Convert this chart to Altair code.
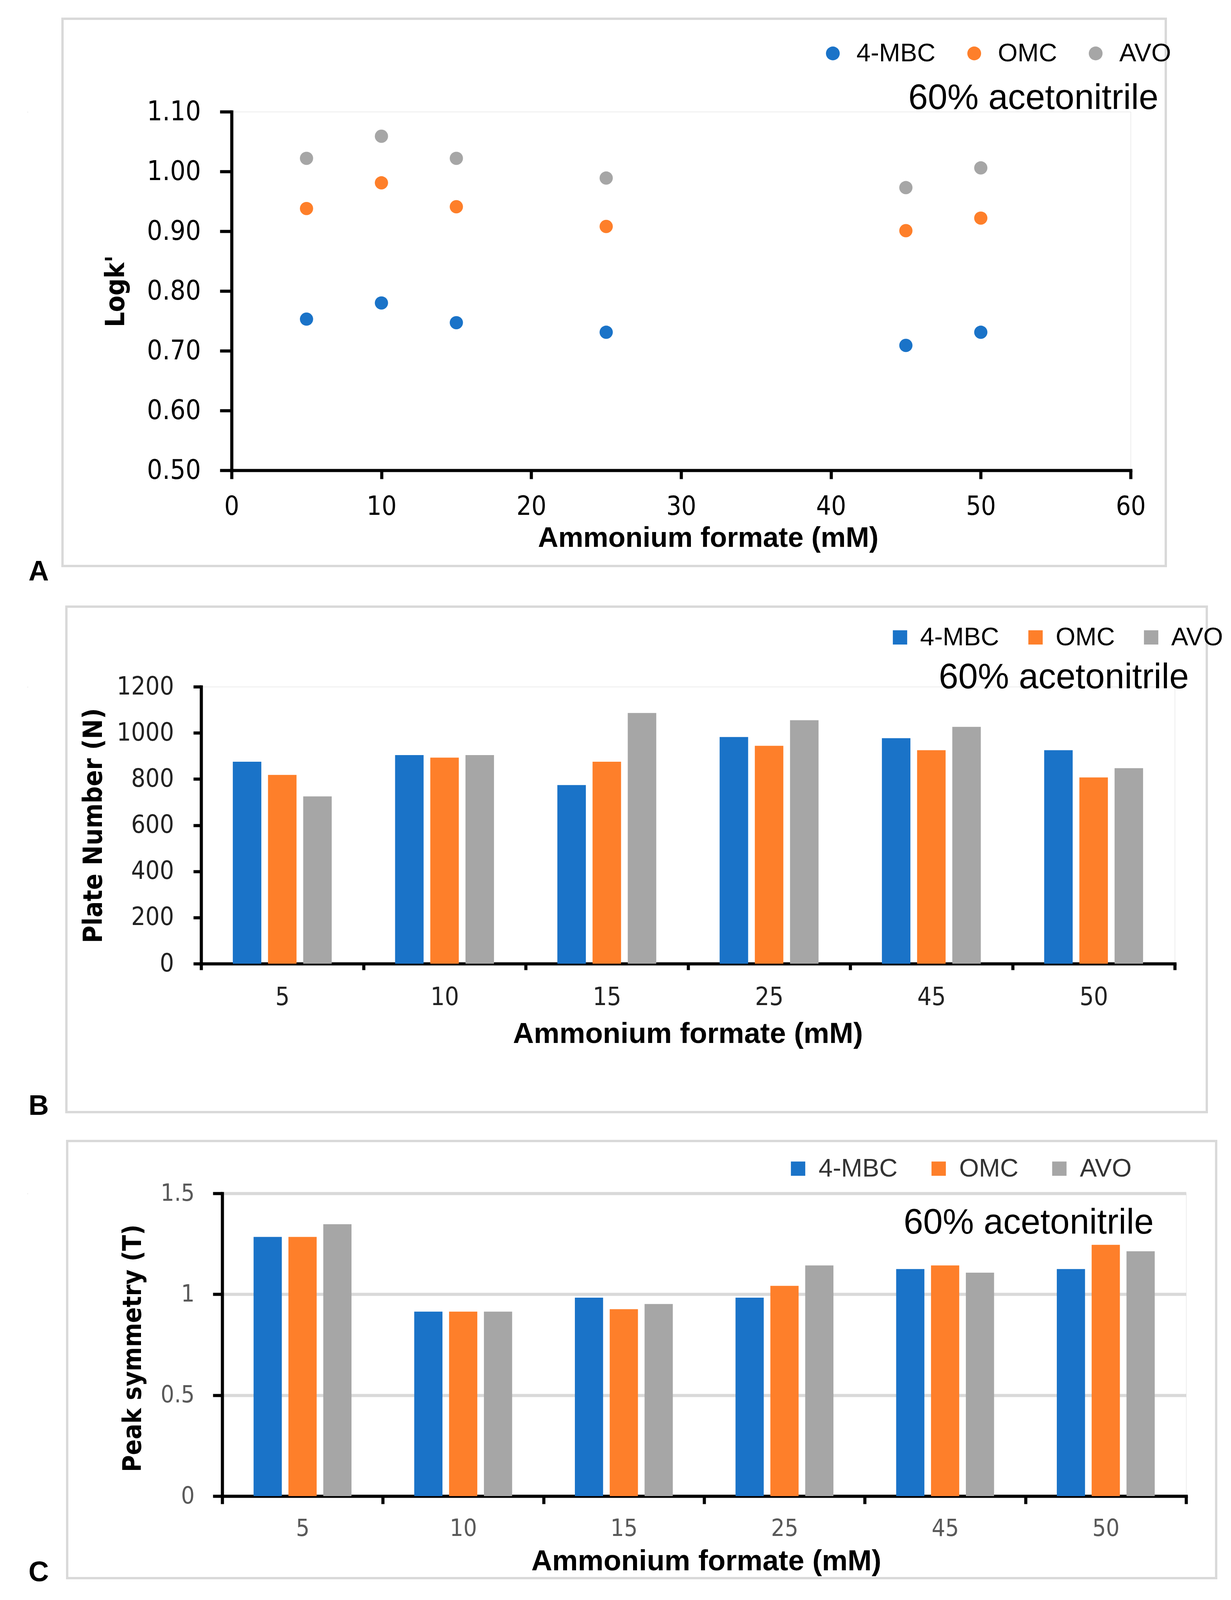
import altair as alt
import pandas as pd

# ---------------- data ----------------
conc = [5, 10, 15, 25, 45, 50]
conc_labels = ["5", "10", "15", "25", "45", "50"]
compounds = ["4-MBC", "OMC", "AVO"]
colors = ["#1A73C8", "#FE7F2A", "#A6A6A6"]

# Panel A: log k'
logk_4mbc = [0.753, 0.780, 0.747, 0.731, 0.709, 0.731]
logk_omc = [0.938, 0.981, 0.941, 0.908, 0.901, 0.922]
logk_avo = [1.022, 1.059, 1.022, 0.989, 0.973, 1.006]

# Panel B: plate number
plate_4mbc = [875, 904, 774, 982, 977, 925]
plate_omc = [818, 893, 875, 944, 925, 807]
plate_avo = [725, 904, 1086, 1055, 1026, 847]

# Panel C: peak symmetry
sym_4mbc = [1.284, 0.914, 0.983, 0.983, 1.125, 1.125]
sym_omc = [1.284, 0.914, 0.926, 1.042, 1.143, 1.245]
sym_avo = [1.347, 0.914, 0.952, 1.143, 1.107, 1.213]

# axis ticks
a_x_ticks = [0, 10, 20, 30, 40, 50, 60]
a_y_ticks = [0.5, 0.6, 0.7, 0.8, 0.9, 1.0, 1.1]
b_y_ticks = [0, 200, 400, 600, 800, 1000, 1200]
c_y_ticks = [0, 0.5, 1.0, 1.5]

note_text = "60% acetonitrile"
x_title = "Ammonium formate (mM)"


def to_long(series_list, name):
    rows = []
    for comp, vals in zip(compounds, series_list):
        for c, lab, v in zip(conc, conc_labels, vals):
            rows.append({"conc": c, "label": lab, "compound": comp, name: v})
    return pd.DataFrame(rows)


dfA = to_long([logk_4mbc, logk_omc, logk_avo], "logk")
dfB = to_long([plate_4mbc, plate_omc, plate_avo], "plate")
dfC = to_long([sym_4mbc, sym_omc, sym_avo], "sym")
one = pd.DataFrame({"k": [0]})

SANS = "'Liberation Sans', Arial, sans-serif"
COND = "'DejaVu Sans Condensed', 'DejaVu Sans', sans-serif"
color_scale = alt.Scale(domain=compounds, range=colors)


def frame(x1, x2, y1, y2):
    return alt.Chart(one).mark_rect(fillOpacity=0, stroke="#D9D9D9", strokeWidth=6).encode(
        x=alt.value(x1), x2=alt.value(x2), y=alt.value(y1), y2=alt.value(y2))


def letter(ch, x, y):
    return alt.Chart(one).mark_text(text=ch, font=SANS, fontSize=72, fontWeight="bold",
                                    align="center", baseline="middle", color="black").encode(
        x=alt.value(x), y=alt.value(y))


def note(x, y, size):
    return alt.Chart(one).mark_text(text=note_text, font=SANS, fontSize=size,
                                    align="right", baseline="middle", color="black").encode(
        x=alt.value(x), y=alt.value(y))


def axis(**kw):
    base = dict(domainColor="black", domainWidth=8, domainCap="square", tickColor="black",
                tickWidth=8, grid=False, labelFont=COND, labelColor="black",
                titleColor="black", titleFontWeight="bold", titleBaseline="middle")
    base.update(kw)
    return alt.Axis(**base)


def legend(x, y, sym, size, offset, colpad, label_color="black"):
    return alt.Legend(orient="none", legendX=x, legendY=y, direction="horizontal", columns=3,
                      title=None, symbolType=sym, symbolSize=size, symbolStrokeWidth=0,
                      symbolOpacity=1, labelFont=SANS, labelFontSize=65, labelColor=label_color,
                      labelLimit=0, labelOffset=offset, columnPadding=colpad, padding=0,
                      rowPadding=0)


# ---------------- panel A ----------------
WA, HA = 2302, 918
pointsA = alt.Chart(dfA).mark_point(filled=True, size=1150, opacity=1).encode(
    x=alt.X("conc:Q", scale=alt.Scale(domain=[0, 60], nice=False, zero=False),
            axis=axis(values=a_x_ticks, format="d", tickSize=22, labelFontSize=67,
                      labelPadding=38, labelFlush=False, title=x_title, titleFont=SANS,
                      titleFontSize=72, titleX=1220, titleY=173)),
    y=alt.Y("logk:Q", scale=alt.Scale(domain=[0.5, 1.1], nice=False, zero=False),
            axis=axis(values=a_y_ticks, format=".2f", tickSize=30, labelFontSize=69,
                      labelPadding=49, labelFlush=False, title="Logk'", titleFont=COND,
                      titleFontSize=68, titleX=-296, titleY=459)),
    color=alt.Color("compound:N", scale=color_scale, sort=compounds,
                    legend=legend(1507, -182, "circle", 1250, 28, 66)),
)
panelA = alt.layer(
    frame(-433, 2392, -238, 1163),
    letter("A", -494, 1178),
    note(2373, -34, 90),
    pointsA,
).properties(width=WA, height=HA)

# ---------------- panel B ----------------
WB, HB = 2493, 709
barsB = alt.Chart(dfB).mark_bar().encode(
    x=alt.X("label:N", sort=conc_labels, scale=alt.Scale(paddingInner=0, paddingOuter=0),
            axis=axis(tickBand="extent", labelAngle=0, tickSize=16, labelFontSize=64,
                      labelColor="#222222", labelPadding=38, title=x_title, titleFont=SANS,
                      titleFontSize=74, titleX=1246, titleY=180)),
    xOffset=alt.XOffset("compound:N", sort=compounds,
                        scale=alt.Scale(paddingInner=0.19, paddingOuter=0.9)),
    y=alt.Y("plate:Q", scale=alt.Scale(domain=[0, 1200], nice=False),
            axis=axis(values=b_y_ticks, format="d", tickSize=20, labelFontSize=64,
                      labelColor="#222222", labelPadding=50, title="Plate Number (N)",
                      titleFont=COND, titleFontSize=68, titleX=-275, titleY=355)),
    color=alt.Color("compound:N", scale=color_scale, sort=compounds,
                    legend=legend(1757, -159, "square", 1350, 19, 60)),
)
panelB = alt.layer(
    frame(-345, 2575, -205, 1089),
    letter("B", -416, 1074),
    note(2529, -23, 90),
    barsB,
).properties(width=WB, height=HB)

# ---------------- panel C ----------------
WC, HC = 2468, 775
barsC = alt.Chart(dfC).mark_bar().encode(
    x=alt.X("label:N", sort=conc_labels, scale=alt.Scale(paddingInner=0, paddingOuter=0),
            axis=axis(tickBand="extent", labelAngle=0, tickSize=20, labelFontSize=61,
                      labelColor="#595959", labelPadding=33, title=x_title, titleFont=SANS,
                      titleFontSize=74, titleX=1239, titleY=167)),
    xOffset=alt.XOffset("compound:N", sort=compounds,
                        scale=alt.Scale(paddingInner=0.19, paddingOuter=0.9)),
    y=alt.Y("sym:Q", scale=alt.Scale(domain=[0, 1.5], nice=False),
            axis=axis(values=c_y_ticks, format="~g", tickSize=24, labelFontSize=61,
                      labelColor="#595959", labelPadding=47, grid=True, gridColor="#D9D9D9",
                      gridWidth=8, title="Peak symmetry (T)", titleFont=COND,
                      titleFontSize=66, titleX=-229, titleY=396)),
    color=alt.Color("compound:N", scale=color_scale, sort=compounds,
                    legend=legend(1442, -96, "square", 1350, 20, 72, "#333333")),
)
panelC = alt.layer(
    frame(-397, 2545, -134, 985),
    letter("C", -470, 971),
    note(2385, 76, 90),
    barsC,
).properties(width=WC, height=HC)


# ---------------- layout ----------------
def spacer():
    return alt.Chart(one).mark_rect(opacity=0).encode(
        x=alt.value(0), x2=alt.value(1), y=alt.value(0), y2=alt.value(1)
    ).properties(width=1, height=1)


def row(panel):
    return alt.hconcat(spacer(), panel, spacing=0).resolve_scale(
        color="independent", xOffset="independent").resolve_legend(color="independent")


chart = alt.vconcat(row(panelA), row(panelB), row(panelC), spacing=48).resolve_scale(
    color="independent", xOffset="independent"
).resolve_legend(color="independent").properties(
    padding={"left": 61, "top": 36, "right": 5, "bottom": 5}
).configure_view(strokeWidth=0).configure(background="white")

chart.save("out.html", embed_options={"renderer": "svg", "actions": False})
